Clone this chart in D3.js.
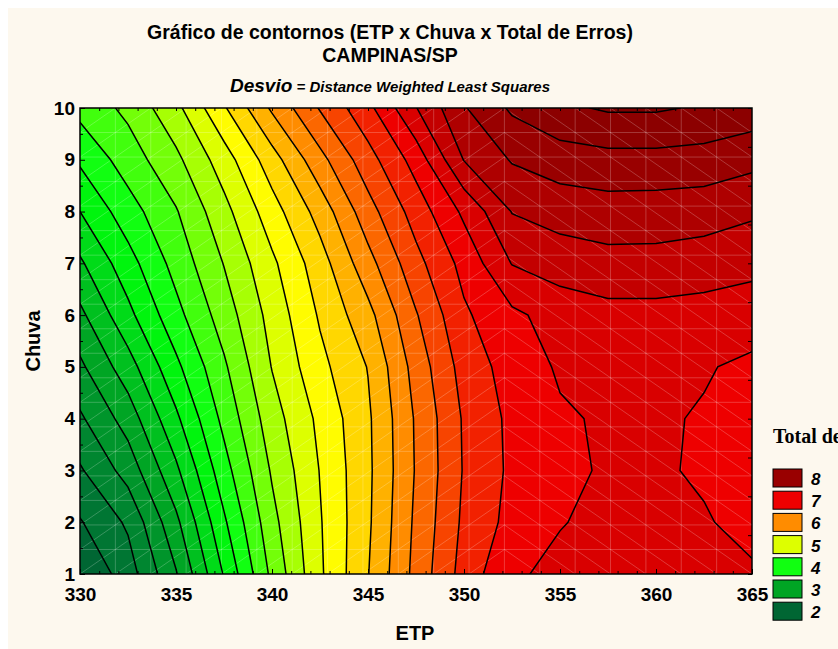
<!DOCTYPE html>
<html>
<head>
<meta charset="utf-8">
<script src="https://cdn.jsdelivr.net/npm/d3@7"></script>
<style>
  body { margin: 0; background: #ffffff; }
  svg text { font-family: "Liberation Sans", Arial, sans-serif; }
</style>
</head>
<body>
<div id="chart"></div>
<script>
// ETP columns and Chuva rows of the surface grid
const etp = [330, 332.5, 335, 337.5, 340, 342.5, 345, 347.5, 350, 352.5, 355, 357.5, 360, 362.5, 365];
const chuva = [1, 2, 3, 4, 5, 6, 7, 8, 9, 10];

// Total de Erros, one row per Chuva value (bottom row first)
const erros = [
  [1.75, 2.13, 2.73, 3.52, 4.31, 4.96, 5.49, 6.08, 6.60, 6.97, 7.05, 7.08, 7.08, 7.06, 7.03],
  [1.98, 2.29, 2.94, 3.71, 4.42, 4.98, 5.46, 6.05, 6.55, 6.83, 6.99, 7.05, 7.05, 7.02, 6.93],
  [2.22, 2.60, 3.20, 3.90, 4.53, 5.01, 5.45, 6.02, 6.52, 6.80, 6.94, 7.03, 7.03, 6.97, 6.88],
  [2.46, 2.86, 3.45, 4.07, 4.64, 5.06, 5.46, 6.03, 6.53, 6.81, 6.97, 7.03, 7.03, 6.98, 6.88],
  [2.70, 3.14, 3.69, 4.21, 4.76, 5.18, 5.51, 6.10, 6.60, 6.86, 7.03, 7.07, 7.06, 7.02, 6.95],
  [2.94, 3.43, 3.92, 4.37, 4.84, 5.28, 5.67, 6.23, 6.71, 6.95, 7.10, 7.17, 7.17, 7.15, 7.12],
  [3.21, 3.65, 4.09, 4.51, 4.95, 5.39, 5.91, 6.42, 6.83, 7.26, 7.37, 7.42, 7.42, 7.38, 7.32],
  [3.50, 3.89, 4.23, 4.67, 5.14, 5.60, 6.15, 6.61, 7.05, 7.51, 7.60, 7.64, 7.63, 7.61, 7.54],
  [3.79, 4.12, 4.44, 4.88, 5.39, 5.92, 6.40, 6.85, 7.51, 7.77, 7.88, 7.92, 7.92, 7.90, 7.82],
  [4.08, 4.31, 4.68, 5.22, 5.79, 6.27, 6.68, 7.24, 7.73, 8.04, 8.20, 8.28, 8.28, 8.22, 8.15]
];

// legend classes and their colours
const legendValues = [8, 7, 6, 5, 4, 3, 2];
const legendColors = ["#990000", "#ee0000", "#ff8c00", "#ddff00", "#11ff11", "#00a524", "#006633"];

const xTicks = [330, 335, 340, 345, 350, 355, 360, 365];
const yTicks = [1, 2, 3, 4, 5, 6, 7, 8, 9, 10];

const step = 0.25;
const levels = d3.range(2, 8.26, step);

const W = 838, H = 649;
const plot = { left: 80, top: 108, right: 752, bottom: 574 };

const svg = d3.select("#chart").append("svg")
    .attr("width", W)
    .attr("height", H);

svg.append("rect")
    .attr("x", 8).attr("y", 8)
    .attr("width", W - 8).attr("height", H - 8)
    .attr("fill", "#fdf8ee");

const x = d3.scaleLinear().domain([330, 365]).range([plot.left, plot.right]);
const y = d3.scaleLinear().domain([1, 10]).range([plot.bottom, plot.top]);

const color = d3.scaleLinear()
    .domain(legendValues.slice().reverse().concat([9]))
    .range(legendColors.slice().reverse().concat(["#660000"]))
    .interpolate(d3.interpolateHsl)
    .clamp(true);

svg.append("clipPath").attr("id", "clip")
  .append("rect")
    .attr("x", plot.left).attr("y", plot.top)
    .attr("width", plot.right - plot.left).attr("height", plot.bottom - plot.top);

// grid index -> data coordinates (d3.contours puts sample i at i + 0.5)
const nx = etp.length, ny = chuva.length;
const gx = d3.scaleLinear().domain([0.5, nx - 0.5]).range([etp[0], etp[nx - 1]]);
const gy = d3.scaleLinear().domain([0.5, ny - 0.5]).range([chuva[0], chuva[ny - 1]]);
const proj = d3.geoTransform({
  point: function(px, py) { this.stream.point(x(gx(px)), y(gy(py))); }
});
const path = d3.geoPath(proj);

const bands = d3.contours()
    .size([nx, ny])
    .thresholds(levels)(erros.flat());

const g = svg.append("g").attr("clip-path", "url(#clip)");

g.append("rect")
    .attr("x", plot.left).attr("y", plot.top)
    .attr("width", plot.right - plot.left).attr("height", plot.bottom - plot.top)
    .attr("fill", color(levels[0]));

g.selectAll("path.band")
  .data(bands)
  .enter().append("path")
    .attr("class", "band")
    .attr("d", path)
    .attr("fill", d => color(d.value + step));

// faint surface mesh drawn by the original program
const meshN = 19, flipCol = 12;
const mx = d3.scaleLinear().domain([0, meshN]).range([plot.left, plot.right]);
const my = d3.scaleLinear().domain([0, meshN]).range([plot.bottom, plot.top]);
let mesh = "";
d3.range(1, meshN).forEach(k => {
  mesh += `M${mx(k)},${plot.top}V${plot.bottom}`;
  mesh += `M${plot.left},${my(k)}H${plot.right}`;
});
d3.range(meshN).forEach(i => {
  d3.range(meshN).forEach(j => {
    if (i < flipCol) mesh += `M${mx(i)},${my(j)}L${mx(i + 1)},${my(j + 1)}`;
    else mesh += `M${mx(i)},${my(j + 1)}L${mx(i + 1)},${my(j)}`;
  });
});
g.append("path")
    .attr("d", mesh)
    .attr("fill", "none")
    .attr("stroke", "#ffffff")
    .attr("stroke-opacity", 0.28)
    .attr("stroke-width", 0.8);

g.selectAll("path.line")
  .data(bands)
  .enter().append("path")
    .attr("class", "line")
    .attr("d", path)
    .attr("fill", "none")
    .attr("stroke", "#000")
    .attr("stroke-width", 1.5);

// frame
svg.append("rect")
    .attr("x", plot.left).attr("y", plot.top)
    .attr("width", plot.right - plot.left).attr("height", plot.bottom - plot.top)
    .attr("fill", "none")
    .attr("stroke", "#000")
    .attr("stroke-width", 1.5);

// axes, ticks pointing inside
const xAxis = svg.append("g")
    .attr("transform", `translate(0,${plot.bottom})`)
    .call(d3.axisBottom(x).tickValues(xTicks).tickSizeInner(-5).tickSizeOuter(0).tickPadding(14));
svg.append("g")
    .attr("transform", `translate(0,${plot.bottom})`)
    .call(d3.axisBottom(x).tickValues(d3.range(331, 365)).tickSizeInner(-3).tickSizeOuter(0).tickFormat(""));
svg.append("g")
    .attr("transform", `translate(0,${plot.top})`)
    .call(d3.axisTop(x).tickValues(d3.range(331, 365)).tickSizeInner(-3).tickSizeOuter(0).tickFormat(""));

const yAxis = svg.append("g")
    .attr("transform", `translate(${plot.left},0)`)
    .call(d3.axisLeft(y).tickValues(yTicks).tickSizeInner(-5).tickSizeOuter(0).tickPadding(5));
svg.append("g")
    .attr("transform", `translate(${plot.left},0)`)
    .call(d3.axisLeft(y).tickValues(d3.range(1.5, 10, 1)).tickSizeInner(-3).tickSizeOuter(0).tickFormat(""));
svg.append("g")
    .attr("transform", `translate(${plot.right},0)`)
    .call(d3.axisRight(d3.scaleLinear().domain([0, 12]).range([plot.bottom, plot.top]))
      .ticks(12).tickSizeInner(-4).tickSizeOuter(0).tickFormat(""));

svg.selectAll(".domain").remove();
svg.selectAll(".tick line").attr("stroke", "#000");
[xAxis, yAxis].forEach(a => a.selectAll("text")
    .attr("font-family", "Liberation Sans, Arial, sans-serif")
    .attr("font-size", 19)
    .attr("font-weight", "bold")
    .attr("fill", "#000"));

// titles
const title = svg.append("g").attr("font-weight", "bold").attr("text-anchor", "middle");
title.append("text").attr("x", 390).attr("y", 39).attr("font-size", 19.5)
    .text("Gráfico de contornos (ETP x Chuva x Total de Erros)");
title.append("text").attr("x", 390).attr("y", 62).attr("font-size", 19.5)
    .text("CAMPINAS/SP");
const sub = title.append("text").attr("x", 390).attr("y", 92).attr("font-style", "italic");
sub.append("tspan").attr("font-size", 19).text("Desvio");
sub.append("tspan").attr("font-size", 15).text(" = Distance Weighted Least Squares");

svg.append("text")
    .attr("x", 415).attr("y", 640)
    .attr("text-anchor", "middle")
    .attr("font-size", 20).attr("font-weight", "bold")
    .text("ETP");

svg.append("text")
    .attr("transform", `translate(40,${(plot.top + plot.bottom) / 2}) rotate(-90)`)
    .attr("text-anchor", "middle")
    .attr("font-size", 20).attr("font-weight", "bold")
    .text("Chuva");

// legend
const legend = svg.append("g").attr("transform", "translate(773,0)");
legend.append("text")
    .attr("x", 0).attr("y", 443)
    .style("font-family", "'Liberation Serif', 'Times New Roman', serif")
    .attr("font-size", 20).attr("font-weight", "bold")
    .text("Total de Erros");
const item = legend.selectAll("g.item")
  .data(legendValues)
  .enter().append("g")
    .attr("class", "item")
    .attr("transform", (d, i) => `translate(0,${469 + i * 22.2})`);
item.append("rect")
    .attr("width", 29).attr("height", 18)
    .attr("fill", d => color(d))
    .attr("stroke", "#000");
item.append("text")
    .attr("x", 38).attr("y", 16)
    .attr("font-size", 17).attr("font-weight", "bold").attr("font-style", "italic")
    .text(d => d);
</script>
</body>
</html>
